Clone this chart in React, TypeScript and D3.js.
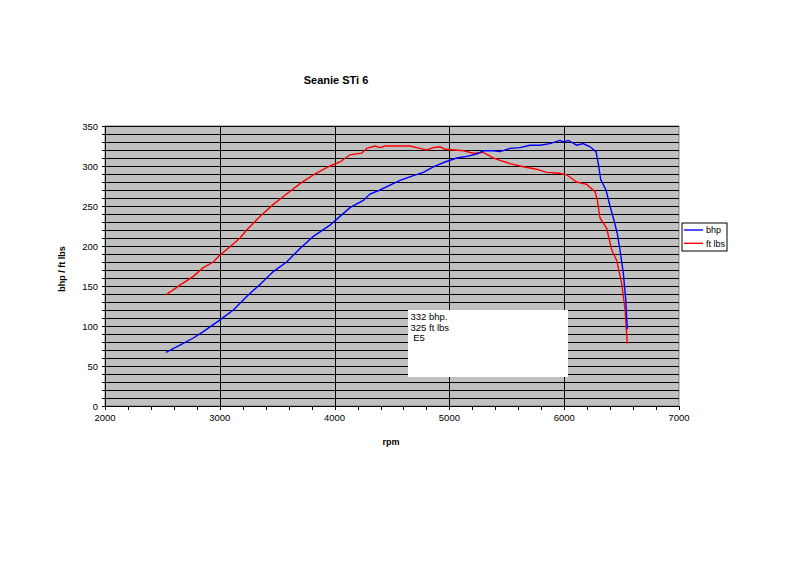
import React from "react";
import * as d3 from "d3";

const bhpRpm = [2531, 2653, 2769, 2856, 2996, 3118, 3234, 3350, 3466, 3582, 3699, 3815, 3960, 4047, 4134, 4250, 4308, 4395, 4483, 4570, 4686, 4773, 4860, 4962, 5064, 5151, 5238, 5296, 5383, 5441, 5528, 5615, 5702, 5789, 5876, 5963, 5992, 6036, 6109, 6166, 6225, 6277, 6297, 6318, 6364, 6399, 6434, 6463, 6486, 6515, 6536, 6550];
const bhpVal = [67, 76, 85, 93, 107, 120, 137, 152, 168, 180, 197, 212, 226, 237, 248, 257, 265, 270, 276, 282, 288, 292, 299, 305, 310, 312, 315, 319, 319, 318, 322, 323, 326, 326, 328, 332, 330, 332, 326, 328, 324, 318, 303, 283, 270, 250, 232, 215, 195, 166, 133, 96];

const tqRpm = [2531, 2653, 2769, 2856, 2944, 2996, 3089, 3176, 3234, 3350, 3466, 3582, 3699, 3815, 3960, 4047, 4134, 4236, 4280, 4352, 4395, 4439, 4541, 4657, 4744, 4802, 4860, 4918, 4962, 5049, 5122, 5209, 5296, 5383, 5441, 5528, 5644, 5760, 5847, 5963, 6021, 6109, 6196, 6268, 6289, 6312, 6370, 6414, 6457, 6501, 6530, 6550];
const tqVal = [139, 151, 162, 173, 180, 188, 199, 210, 220, 237, 252, 265, 278, 289, 300, 305, 314, 316, 322, 325, 323, 325, 325, 325, 322, 320, 323, 324, 321, 320, 319, 316, 317, 310, 307, 303, 299, 296, 292, 291, 289, 280, 277, 268, 257, 235, 222, 195, 182, 153, 120, 78];

const xTicks = [2000, 3000, 4000, 5000, 6000, 7000];
const yTicks = [0, 50, 100, 150, 200, 250, 300, 350];
const seriesNames = ["bhp", "ft lbs"];
const seriesColors = ["#0000FF", "#FF0000"];
const title = "Seanie STi 6";
const noteLines = ["332 bhp.", "325 ft lbs", " E5"];

export default function App() {
  const W = 800, H = 566;
  const L = 105, R = 679, T = 126, B = 406;
  const x = d3.scaleLinear().domain([2000, 7000]).range([L, R]);
  const y = d3.scaleLinear().domain([0, 350]).range([B, T]);
  const line = d3.line<[number, number]>().x(d => x(d[0])).y(d => y(d[1]));
  const bhpPts = bhpRpm.map((r, i) => [r, bhpVal[i]] as [number, number]);
  const tqPts = tqRpm.map((r, i) => [r, tqVal[i]] as [number, number]);
  const minorY = d3.range(0, 351, 10);
  const minorX = d3.range(2000, 7001, 200);
  const font = "'Liberation Sans', Arial, sans-serif";

  return (
    <svg width={W} height={H} style={{ position: "absolute", left: 0, top: 0, background: "#fff" }} fontFamily={font}>
      <rect x={0} y={0} width={W} height={H} fill="#fff" />
      <text x={336} y={84} textAnchor="middle" fontWeight="bold" fontSize={11}>{title}</text>
      <rect x={L} y={T} width={R - L} height={B - T} fill="#C0C0C0" stroke="#808080" strokeWidth={1} />
      {minorY.map(v => (
        <line key={"hy" + v} x1={L} x2={R} y1={Math.round(y(v)) + 0.5} y2={Math.round(y(v)) + 0.5} stroke="#000" strokeWidth={1} />
      ))}
      {xTicks.slice(1, -1).map(v => (
        <line key={"vx" + v} x1={Math.round(x(v)) + 0.5} x2={Math.round(x(v)) + 0.5} y1={T} y2={B} stroke="#000" strokeWidth={1} />
      ))}
      {/* axes */}
      <line x1={L + 0.5} x2={L + 0.5} y1={T} y2={B} stroke="#000" />
      <line x1={L} x2={R} y1={B + 0.5} y2={B + 0.5} stroke="#000" />
      {minorY.map(v => (
        <line key={"ty" + v} x1={L - 3} x2={L} y1={Math.round(y(v)) + 0.5} y2={Math.round(y(v)) + 0.5} stroke="#000" />
      ))}
      {minorX.map(v => (
        <line key={"tx" + v} x1={Math.round(x(v)) + 0.5} x2={Math.round(x(v)) + 0.5} y1={B} y2={B + 4} stroke="#000" />
      ))}
      {yTicks.map(v => (
        <text key={"yl" + v} x={98} y={y(v) + 3.5} textAnchor="end" fontSize={9.5}>{v}</text>
      ))}
      {xTicks.map(v => (
        <text key={"xl" + v} x={x(v)} y={421} textAnchor="middle" fontSize={9.5}>{v}</text>
      ))}
      <text x={391} y={445} textAnchor="middle" fontWeight="bold" fontSize={9}>rpm</text>
      <text transform={`translate(65,269) rotate(-90)`} textAnchor="middle" fontWeight="bold" fontSize={9}>bhp / ft lbs</text>
      {/* note box */}
      <rect x={408} y={310} width={160} height={67} fill="#fff" />
      {noteLines.map((t, i) => (
        <text key={"n" + i} x={410.5} y={320 + i * 10.5} fontSize={9.5} style={{ whiteSpace: "pre" }}>{t}</text>
      ))}
      {/* series */}
      <path d={line(tqPts) || ""} fill="none" stroke={seriesColors[1]} strokeWidth={1.4} />
      <path d={line(bhpPts) || ""} fill="none" stroke={seriesColors[0]} strokeWidth={1.4} />
      {/* legend */}
      <rect x={682} y={223} width={45} height={28} fill="#fff" stroke="#000" strokeWidth={1} />
      {seriesNames.map((n, i) => (
        <g key={n}>
          <line x1={684} x2={703} y1={230 + i * 13.3} y2={230 + i * 13.3} stroke={seriesColors[i]} strokeWidth={1.4} />
          <text x={706} y={233.3 + i * 13.3} fontSize={9}>{n}</text>
        </g>
      ))}
    </svg>
  );
}
